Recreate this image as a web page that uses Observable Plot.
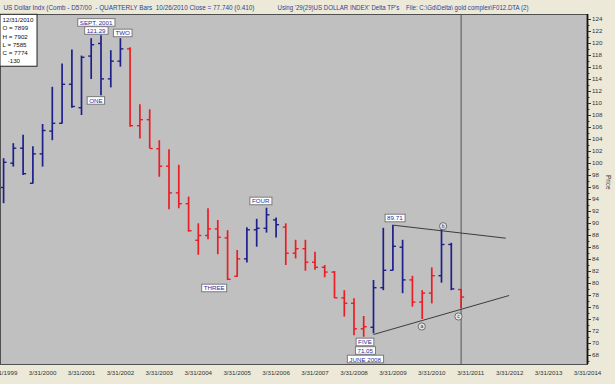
<!DOCTYPE html>
<html><head><meta charset="utf-8">
<script src="https://cdn.jsdelivr.net/npm/d3@7"></script>
<script src="https://cdn.jsdelivr.net/npm/@observablehq/plot@0.6"></script>
<style>
html,body{margin:0;padding:0;background:#ece9d8;}
#chart{width:615px;height:384px;overflow:hidden;position:relative;}
</style></head><body><div id="chart"></div>
<script>
// ---- data (quarterly OHLC, US Dollar Index) ----
const dates = [
"1999-03-31","1999-06-30","1999-09-30","1999-12-31",
"2000-03-31","2000-06-30","2000-09-30","2000-12-31",
"2001-03-31","2001-06-30","2001-09-30","2001-12-31",
"2002-03-31","2002-06-30","2002-09-30","2002-12-31",
"2003-03-31","2003-06-30","2003-09-30","2003-12-31",
"2004-03-31","2004-06-30","2004-09-30","2004-12-31",
"2005-03-31","2005-06-30","2005-09-30","2005-12-31",
"2006-03-31","2006-06-30","2006-09-30","2006-12-31",
"2007-03-31","2007-06-30","2007-09-30","2007-12-31",
"2008-03-31","2008-06-30","2008-09-30","2008-12-31",
"2009-03-31","2009-06-30","2009-09-30","2009-12-31",
"2010-03-31","2010-06-30","2010-09-30","2010-12-31"];
const opens = [96.0,100.05,102.55,96.7, 101.6,105.4,106.7,113.2, 109.3,117.9,120.0,114.1,
  117.05,119.1,106.3,107.3, 102.45,99.55,95.1,93.3, 87.2,88.0,89.1,87.6,
  81.2,84.1,88.95,89.2, 90.6,89.4,85.05,85.8, 83.55,82.7,81.9,77.6,
  76.7,72.45,72.7,79.3, 82.2,86.05,80.6,76.9, 78.4,81.3,86.5,78.99];
const highs = [100.8,103.3,104.7,102.8, 106.5,112.7,116.6,118.9, 117.9,120.8,121.29,118.8,
  120.8,119.3,109.8,108.95, 103.8,102.3,99.7,94.4, 89.95,92.45,90.5,88.8,
  85.5,89.3,90.7,92.55, 90.9,89.95,87.2,87.2, 85.2,83.0,82.0,78.8,
  77.45,74.5,80.5,89.2, 89.71,87.2,81.2,78.8, 82.6,89.7,86.7,79.02];
const lows = [93.3,99.4,98.0,96.6, 99.4,103.8,106.6,109.2, 108.0,114.0,111.3,112.6,
  116.05,106.05,104.1,102.45, 97.7,92.3,92.45,88.55, 84.7,87.3,84.8,80.5,
  81.05,83.4,86.05,88.4, 87.6,83.0,84.1,82.05, 82.2,80.95,77.5,74.4,
  71.3,71.05,71.6,78.8, 82.1,78.3,76.05,74.0, 76.6,80.05,78.8,75.85];
const closes = [100.2,102.55,98.3,101.6, 105.5,106.7,113.2,109.5, 117.7,119.8,114.1,117.05,
  119.1,106.3,107.3,102.5, 99.55,95.1,93.3,88.8, 88.0,89.1,87.7,80.7,
  84.1,88.95,89.2,91.45, 89.8,85.05,85.8,83.55, 82.7,81.9,77.6,76.7,
  72.45,72.8,79.3,82.2, 86.2,80.6,76.9,78.4, 81.3,86.5,79.1,77.74];
const trend = [
"up","up","up","up","up","up","up","up","up","up","up","up","up",
"down","down","down","down","down","down","down","down","down","down","down","down",
"up","up","up","up",
"down","down","down","down","down","down","down","down","down",
"up","up","up","up",
"down","down","down",
"up","up",
"down"];

// axis ticks / labels
const xTickDates = ["1999-03-31","2000-03-31","2001-03-31","2002-03-31","2003-03-31","2004-03-31",
  "2005-03-31","2006-03-31","2007-03-31","2008-03-31","2009-03-31","2010-03-31","2011-03-31",
  "2012-03-31","2013-03-31","2014-03-31"];
const xTickLabels = ["3/31/1999","3/31/2000","3/31/2001","3/31/2002","3/31/2003","3/31/2004",
  "3/31/2005","3/31/2006","3/31/2007","3/31/2008","3/31/2009","3/31/2010","3/31/2011",
  "3/31/2012","3/31/2013","3/31/2014"];
const yTicks = [68,70,72,74,76,78,80,82,84,86,88,90,92,94,96,98,100,102,104,106,108,110,112,114,116,118,120,122,124];
const yMinorTicks = [67,69,71,73,75,77,79,81,83,85,87,89,91,93,95,97,99,101,103,105,107,109,111,113,115,117,119,121,123];

// annotations
const annoText  = ["SEPT. 2001","121.29","TWO","ONE","THREE","FOUR","FIVE","71.05","JUNE 2008","89.71"];
const annoDate  = ["2001-08-15","2001-08-15","2002-04-21","2001-08-13","2004-08-27","2005-11-06","2008-07-12","2008-07-14","2008-07-14","2009-04-18"];
const annoPrice = [123.42,122.08,121.67,110.42,79.17,93.67,70.17,68.75,67.33,90.83];
const pointLabels = ["a","b","c"];
const pointDates  = ["2009-12-27","2010-07-15","2010-12-06"];
const pointPrices = [72.83,89.55,74.5];
const lineStartDates  = ["2009-04-08","2008-09-30"];
const lineStartPrices = [89.71,71.5];
const lineEndDates    = ["2012-02-23","2012-03-26"];
const lineEndPrices   = [87.55,78.0];
const currentDate = "2010-12-31";

const headerLeft  = "US Dollar Indx (Comb - D57/00 \u00a0- QUARTERLY Bars \u00a010/26/2010 Close = 77.740 (0.410)";
const headerRight = "Using '29(29)US DOLLAR INDEX' Delta TP's \u00a0\u00a0 File: C:\\Gd\\Delta\\ gold complex\\F012.DTA (2)";
const infoLines = ["12/31/2010","O = 7899","H = 7902","L = 7585","C = 7774","\u00a0\u00a0\u00a0-130"];

// ---- build ----
const BLUE = "#1c1f8c", RED = "#ec1c24";
const bars = dates.map((d, i) => ({date: new Date(d), open: opens[i], high: highs[i], low: lows[i], close: closes[i],
  color: trend[i] === "up" ? BLUE : RED}));
const annos = annoText.map((t, i) => ({text: t, date: new Date(annoDate[i]), price: annoPrice[i]}));
const pts = pointLabels.map((t, i) => ({text: t, date: new Date(pointDates[i]), price: pointPrices[i]}));
const tlines = lineStartDates.map((d, i) => ({x1: new Date(d), y1: lineStartPrices[i], x2: new Date(lineEndDates[i]), y2: lineEndPrices[i]}));

const leftTick  = {draw(ctx) { ctx.moveTo(-3, 0); ctx.lineTo(0, 0); }};
const rightTick = {draw(ctx) { ctx.moveTo(0, 0); ctx.lineTo(3, 0); }};

const FONT = "'Liberation Sans', Arial, sans-serif";
const chart = Plot.plot({
  width: 615, height: 384,
  marginTop: 14, marginBottom: 20, marginLeft: 0, marginRight: 28,
  style: {fontFamily: FONT, fontSize: "6.2px", background: "transparent", overflow: "visible"},
  x: {type: "utc", domain: [new Date("1999-03-02"), new Date("2014-03-31")]},
  y: {domain: [66.5, 124.83]},
  color: {type: "identity"},
  marks: [
    Plot.frame({fill: "#c0c0c0", stroke: "none"}),
    Plot.ruleX([new Date(currentDate)], {stroke: "#555", strokeWidth: 1}),
    Plot.link(tlines, {x1: "x1", y1: "y1", x2: "x2", y2: "y2", stroke: "#3c3c3c", strokeWidth: 1}),
    Plot.ruleX(bars, {x: "date", y1: "low", y2: "high", stroke: "color", strokeWidth: 1.7}),
    Plot.dot(bars, {x: "date", y: "open", symbol: leftTick, fill: "none", stroke: "color", strokeWidth: 1.4}),
    Plot.dot(bars, {x: "date", y: "close", symbol: rightTick, fill: "none", stroke: "color", strokeWidth: 1.4}),
    Plot.text(annos, {x: "date", y: "price", text: "text", fill: "#2b2ba6", fontSize: 6.2, lineAnchor: "middle"}),
    Plot.dot(pts, {x: "date", y: "price", r: 3.6, fill: "#e4e4e4", stroke: "#555", strokeWidth: 0.8}),
    Plot.text(pts, {x: "date", y: "price", text: "text", fill: "#333", fontSize: 5, lineAnchor: "middle"}),
    Plot.frame({stroke: "#505050", strokeWidth: 1}),
    Plot.ruleX([new Date("2014-03-31")], {stroke: "#111", strokeWidth: 1.8}),
    Plot.axisY(yMinorTicks, {anchor: "right", tickSize: 1.5, tickFormat: () => "", label: null, color: "#333"}),
    Plot.axisY(yTicks, {anchor: "right", tickSize: 3, tickPadding: 1.5, label: null, color: "#333"}),
    Plot.axisX(xTickDates.map(d => new Date(d)), {anchor: "bottom", tickSize: 0, tickPadding: 6,
      tickFormat: d => xTickLabels[xTickDates.indexOf(d.toISOString().slice(0, 10))], label: null, color: "#333"}),
    Plot.text(["Price"], {frameAnchor: "right", dx: 21, rotate: 90, fontSize: 6.4, fill: "#333"}),
    Plot.text([headerLeft], {frameAnchor: "top-left", dx: 3, dy: -7, textAnchor: "start", lineAnchor: "middle", fontSize: 7, fill: "#2a3f9a"}),
    Plot.text([headerRight], {frameAnchor: "top-left", dx: 277, dy: -7, textAnchor: "start", lineAnchor: "middle", fontSize: 7, fill: "#2a3f9a"}),
    Plot.text([infoLines.join("\n")], {frameAnchor: "top-left", dx: 2, dy: 2, textAnchor: "start", lineAnchor: "top", lineHeight: 1.32, fontSize: 6.2, fill: "#111"})
  ]
});
document.getElementById("chart").append(chart);

// boxes behind annotation texts and the info panel; fit header widths
const svg = chart.tagName.toLowerCase() === "svg" ? chart : chart.querySelector("svg");
const NS = "http://www.w3.org/2000/svg";
svg.querySelectorAll("text").forEach(t => {
  const content = t.textContent;
  if (content === headerLeft || content === headerRight) {
    t.setAttribute("textLength", 251);
    t.setAttribute("lengthAdjust", "spacingAndGlyphs");
    return;
  }
  let pad = null, stroke = "#7a7a7a";
  if (annoText.includes(content)) pad = {l: 2, r: 2, t: 0.3, b: 0.3};
  else if (content.startsWith("12/31/2010")) { pad = {l: 2.5, r: 3, t: 2, b: 2}; stroke = "#222"; }
  if (!pad) return;
  const b = t.getBBox();
  const r = document.createElementNS(NS, "rect");
  r.setAttribute("x", b.x - pad.l);
  r.setAttribute("y", b.y - pad.t);
  r.setAttribute("width", b.width + pad.l + pad.r);
  r.setAttribute("height", b.height + pad.t + pad.b);
  r.setAttribute("fill", "#fff");
  r.setAttribute("stroke", stroke);
  r.setAttribute("stroke-width", 1);
  if (t.getAttribute("transform")) r.setAttribute("transform", t.getAttribute("transform"));
  t.parentNode.insertBefore(r, t);
});
</script></body></html>
